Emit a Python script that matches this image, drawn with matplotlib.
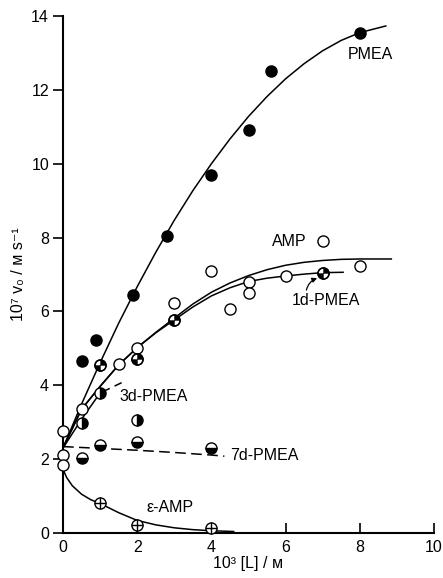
import matplotlib
matplotlib.use("Agg")
import matplotlib.pyplot as plt
from matplotlib.path import Path

plt.rcParams['font.family'] = ['Liberation Sans', 'DejaVu Sans']

# measured points
pmea_x = [0.5, 0.9, 1.9, 2.8, 4.0, 5.0, 5.6, 8.0]
pmea_y = [4.65, 5.22, 6.45, 8.03, 9.7, 10.9, 12.5, 13.55]

amp_x = [0.5, 1.5, 2.0, 3.0, 4.0, 4.5, 5.0, 5.0, 6.0, 7.0, 8.0]
amp_y = [3.35, 4.58, 5.01, 6.24, 7.1, 6.06, 6.81, 6.5, 6.96, 7.9, 7.24]

ctrl_x = [0, 0, 0]
ctrl_y = [2.75, 2.12, 1.84]

d1_x = [1.0, 2.0, 3.0, 7.0]
d1_y = [4.55, 4.72, 5.77, 7.05]

d3_x = [0.5, 1.0, 2.0]
d3_y = [2.98, 3.79, 3.06]

d7_x = [0.5, 1.0, 2.0, 4.0]
d7_y = [2.02, 2.38, 2.47, 2.31]

eps_x = [1.0, 2.0, 4.0]
eps_y = [0.8, 0.22, 0.13]

# fitted curves
pmea_fit_x = [0, 0.5, 1, 1.5, 2, 2.5, 3, 3.5, 4, 4.5, 5, 5.5, 6, 6.5, 7, 7.5, 8, 8.7]
pmea_fit_y = [2.3, 3.49, 4.61, 5.68, 6.67, 7.6, 8.47, 9.27, 10.0, 10.67, 11.28, 11.82,
              12.3, 12.71, 13.06, 13.34, 13.55, 13.73]

amp_fit_x = [0, 0.5, 1, 1.5, 2, 2.5, 3, 3.5, 4, 4.5, 5, 5.5, 6, 6.5, 7, 7.5, 8, 8.85]
amp_fit_y = [2.3, 3.35, 3.97, 4.55, 5.02, 5.43, 5.82, 6.2, 6.52, 6.77, 6.97, 7.13,
             7.25, 7.33, 7.38, 7.41, 7.42, 7.42]

d1_fit_x = [0, 0.5, 1, 1.5, 2, 2.5, 3, 3.5, 4, 4.5, 5, 5.5, 6, 6.5, 7, 7.55]
d1_fit_y = [2.3, 3.35, 3.97, 4.55, 5.02, 5.42, 5.77, 6.12, 6.42, 6.64, 6.81, 6.9,
            6.96, 7.01, 7.05, 7.06]

d3_fit_x = [0, 0.5, 1.0]
d3_fit_y = [2.3, 3.08, 3.79]
d3_dash_x = [1.0, 1.58]
d3_dash_y = [3.79, 4.07]

d7_fit_x = [0, 1, 2, 3, 4, 4.35]
d7_fit_y = [2.34, 2.29, 2.24, 2.18, 2.11, 2.08]

eps_fit_x = [0, 0.1, 0.25, 0.5, 0.75, 1, 1.5, 2, 2.5, 3, 3.5, 4, 4.6]
eps_fit_y = [1.72, 1.5, 1.28, 1.05, 0.9, 0.8, 0.55, 0.34, 0.22, 0.14, 0.09, 0.06, 0.04]

fig = plt.figure(figsize=(4.43, 5.78), dpi=100)
ax = fig.add_axes([0.1422, 0.0779, 0.8375, 0.8944])

lw = 1.1
ax.plot(pmea_fit_x, pmea_fit_y, color='black', lw=lw)
ax.plot(amp_fit_x, amp_fit_y, color='black', lw=lw)
ax.plot(d1_fit_x, d1_fit_y, color='black', lw=lw)
ax.plot(d3_fit_x, d3_fit_y, color='black', lw=lw)
ax.plot(d3_dash_x, d3_dash_y, color='black', lw=lw, dashes=(7, 3.5))
ax.plot(d7_fit_x, d7_fit_y, color='black', lw=lw, dashes=(7, 3.5))
ax.plot(eps_fit_x, eps_fit_y, color='black', lw=lw)

ms = 8.0
mew = 1.0
common = dict(ls='none', ms=ms, mew=mew, mec='black', clip_on=False, zorder=5)

ax.plot(pmea_x, pmea_y, marker='o', mfc='black', **common)
ax.plot(amp_x, amp_y, marker='o', mfc='white', **common)
ax.plot(ctrl_x, ctrl_y, marker='o', mfc='white', **common)

# 1d-PMEA: quartered circles
quarters = Path.make_compound_path(Path.wedge(0, 90), Path.wedge(180, 270))
ax.plot(d1_x, d1_y, marker='o', mfc='white', **common)
ax.plot(d1_x, d1_y, ls='none', marker=quarters, ms=ms, mfc='black', mec='black',
        mew=0.3, clip_on=False, zorder=6)
ax.plot(d1_x, d1_y, marker='o', mfc='none', ls='none', ms=ms, mew=mew, mec='black',
        clip_on=False, zorder=7)

# 3d-PMEA: right half filled
ax.plot(d3_x, d3_y, marker='o', fillstyle='right', mfc='black', mfcalt='white', **common)
# 7d-PMEA: bottom half filled
ax.plot(d7_x, d7_y, marker='o', fillstyle='bottom', mfc='black', mfcalt='white', **common)

# e-AMP: crossed circles
ax.plot(eps_x, eps_y, marker='o', mfc='white', **common)
ax.plot(eps_x, eps_y, ls='none', marker='+', ms=ms, mew=mew, mec='black',
        clip_on=False, zorder=6)

fs = 11.5
ax.text(7.68, 12.95, 'PMEA', fontsize=fs, va='center', ha='left')
ax.text(5.64, 7.89, 'AMP', fontsize=fs, va='center', ha='left')
ax.text(1.51, 3.69, '3d-PMEA', fontsize=fs, va='center', ha='left')
ax.text(4.5, 2.1, '7d-PMEA', fontsize=fs, va='center', ha='left')
ax.text(2.26, 0.68, 'ε-AMP', fontsize=fs, va='center', ha='left')
ax.annotate('1d-PMEA', xy=(6.85, 6.9), xytext=(7.1, 6.3), fontsize=fs,
            ha='center', va='center',
            arrowprops=dict(arrowstyle='-|>', color='black', lw=0.9,
                            mutation_scale=7, shrinkA=0, shrinkB=0,
                            connectionstyle='arc3,rad=-0.3',
                            relpos=(0.2, 1.0)))

ax.set_xlim(0, 10)
ax.set_ylim(0, 14)
ax.set_xticks([0, 2, 4, 6, 8, 10])
ax.set_yticks([0, 2, 4, 6, 8, 10, 12, 14])
ax.spines['top'].set_visible(False)
ax.spines['right'].set_visible(False)
ax.spines['left'].set_linewidth(1.5)
ax.spines['bottom'].set_linewidth(1.5)
ax.tick_params(axis='y', direction='out', length=7, width=1.2, labelsize=fs, pad=3)
ax.tick_params(axis='x', direction='in', length=7, width=1.2, labelsize=fs, pad=5)

ax.set_xlabel('10³ [L] / ᴍ', fontsize=fs, labelpad=1)
ax.set_ylabel('10⁷ v₀ / ᴍ s⁻¹', fontsize=fs, labelpad=4)

fig.savefig('out.png', dpi=100)
